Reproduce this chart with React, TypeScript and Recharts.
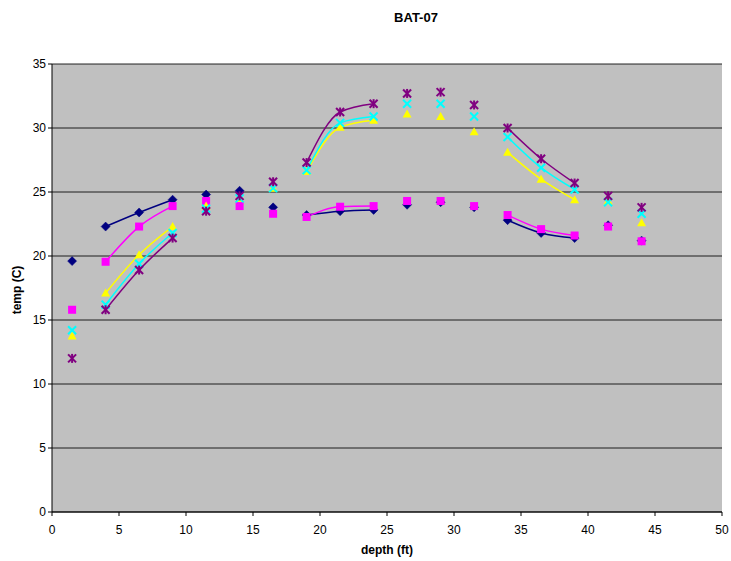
import React from "react";
import {
  ComposedChart,
  Line,
  Scatter,
  XAxis,
  YAxis,
  CartesianGrid,
} from "recharts";

// Sample depths (ft)
const depths = [1.5, 4, 6.5, 9, 11.5, 14, 16.5, 19, 21.5, 24, 26.5, 29, 31.5, 34, 36.5, 39, 41.5, 44];

// Temperature readings (C) for each profile
const navyTemps = [19.6, 22.3, 23.4, 24.4, 24.8, 25.1, 23.8, 23.2, 23.5, 23.6, 24.0, 24.2, 23.8, 22.8, 21.8, 21.4, 22.4, 21.2];
const magentaTemps = [15.8, 19.55, 22.3, 23.9, 24.3, 23.9, 23.3, 23.05, 23.85, 23.9, 24.3, 24.3, 23.9, 23.2, 22.1, 21.6, 22.3, 21.15];
const yellowTemps = [13.75, 17.1, 20.1, 22.3, 23.9, 24.5, 25.3, 26.6, 30.05, 30.6, 31.1, 30.9, 29.7, 28.1, 26.0, 24.4, 24.3, 22.6];
const cyanTemps = [14.2, 16.2, 19.4, 21.8, 23.7, 24.5, 25.3, 26.7, 30.4, 30.9, 31.9, 31.9, 30.9, 29.3, 26.9, 25.2, 24.2, 23.3];
const purpleTemps = [12.0, 15.8, 18.9, 21.4, 23.5, 24.7, 25.8, 27.3, 31.25, 31.9, 32.7, 32.8, 31.8, 30.0, 27.6, 25.7, 24.7, 23.8];

// Index ranges of the readings joined by smoothed lines
const lineSegments: [number, number][] = [
  [1, 3],
  [7, 9],
  [13, 15],
];

const xTicks = [0, 5, 10, 15, 20, 25, 30, 35, 40, 45, 50];
const yTicks = [0, 5, 10, 15, 20, 25, 30, 35];

const FONT = "'Liberation Sans', Arial, sans-serif";

type Pt = { x: number; y: number };

const toPoints = (vals: number[]): Pt[] => depths.map((d, i) => ({ x: d, y: vals[i] }));

const DiamondShape = (p: any) => {
  const { cx, cy } = p;
  const r = 4.5;
  return (
    <polygon
      points={`${cx},${cy - r} ${cx + r},${cy} ${cx},${cy + r} ${cx - r},${cy}`}
      fill="#000080"
      stroke="#000080"
      strokeWidth={0.5}
    />
  );
};

const SquareShape = (p: any) => {
  const { cx, cy } = p;
  return <rect x={cx - 4} y={cy - 4} width={8} height={8} fill="#FF00FF" />;
};

const TriangleShape = (p: any) => {
  const { cx, cy } = p;
  return (
    <polygon
      points={`${cx},${cy - 4.5} ${cx + 4.5},${cy + 3.5} ${cx - 4.5},${cy + 3.5}`}
      fill="#FFFF00"
    />
  );
};

const CrossShape = (p: any) => {
  const { cx, cy } = p;
  const r = 4;
  return (
    <g stroke="#00FFFF" strokeWidth={2}>
      <line x1={cx - r} y1={cy - r} x2={cx + r} y2={cy + r} />
      <line x1={cx - r} y1={cy + r} x2={cx + r} y2={cy - r} />
    </g>
  );
};

const StarShape = (p: any) => {
  const { cx, cy } = p;
  const r = 4;
  return (
    <g stroke="#800080" strokeWidth={2}>
      <line x1={cx - r} y1={cy - r} x2={cx + r} y2={cy + r} />
      <line x1={cx - r} y1={cy + r} x2={cx + r} y2={cy - r} />
      <line x1={cx} y1={cy - r - 0.5} x2={cx} y2={cy + r + 0.5} />
    </g>
  );
};

const series = [
  { name: "navy", color: "#000080", temps: navyTemps, shape: DiamondShape },
  { name: "magenta", color: "#FF00FF", temps: magentaTemps, shape: SquareShape },
  { name: "yellow", color: "#FFFF00", temps: yellowTemps, shape: TriangleShape },
  { name: "cyan", color: "#00FFFF", temps: cyanTemps, shape: CrossShape },
  { name: "purple", color: "#800080", temps: purpleTemps, shape: StarShape },
];

export default function App() {
  const W = 731;
  const H = 561;
  return (
    <div style={{ position: "absolute", left: 0, top: 0, width: W, height: H, background: "#fff", fontFamily: FONT }}>
      <ComposedChart
        width={W}
        height={H}
        margin={{ top: 64, right: 9, bottom: 19, left: 12 }}
      >
        <CartesianGrid
          horizontal={true}
          vertical={false}
          fill="#C0C0C0"
          stroke="#000"
          strokeOpacity={0.85}
          horizontalValues={yTicks}
        />
        <XAxis
          type="number"
          dataKey="x"
          domain={[0, 50]}
          ticks={xTicks}
          allowDataOverflow
          height={30}
          stroke="#000"
          tickSize={4}
          tick={{ fill: "#000", fontSize: 12, fontFamily: FONT, dy: 7 }}
          tickLine={{ stroke: "#000" }}
          interval={0}
        />
        <YAxis
          type="number"
          dataKey="y"
          domain={[0, 35]}
          ticks={yTicks}
          allowDataOverflow
          width={40}
          stroke="#000"
          tickSize={4}
          tick={{ fill: "#000", fontSize: 12, fontFamily: FONT }}
          tickLine={{ stroke: "#000" }}
          interval={0}
        />
        {series.map((s) =>
          lineSegments.map(([a, b], k) => (
            <Line
              key={`${s.name}-seg-${k}`}
              data={toPoints(s.temps).slice(a, b + 1)}
              dataKey="y"
              type="monotone"
              stroke={s.color}
              strokeWidth={1.5}
              dot={false}
              activeDot={false}
              isAnimationActive={false}
              legendType="none"
            />
          ))
        )}
        {series.map((s) => (
          <Scatter
            key={`${s.name}-pts`}
            data={toPoints(s.temps)}
            dataKey="y"
            shape={s.shape}
            isAnimationActive={false}
          />
        ))}
      </ComposedChart>
      <div
        style={{
          position: "absolute",
          left: 366,
          width: 100,
          top: 10,
          textAlign: "center",
          fontWeight: "bold",
          fontSize: 13,
        }}
      >
        BAT-07
      </div>
      <div
        style={{
          position: "absolute",
          left: 337,
          width: 100,
          top: 543,
          textAlign: "center",
          fontWeight: "bold",
          fontSize: 12,
        }}
      >
        depth (ft)
      </div>
      <div
        style={{
          position: "absolute",
          left: 17 - 50,
          width: 100,
          top: 283,
          textAlign: "center",
          fontWeight: "bold",
          fontSize: 12,
          transform: "rotate(-90deg)",
        }}
      >
        temp (C)
      </div>
    </div>
  );
}
